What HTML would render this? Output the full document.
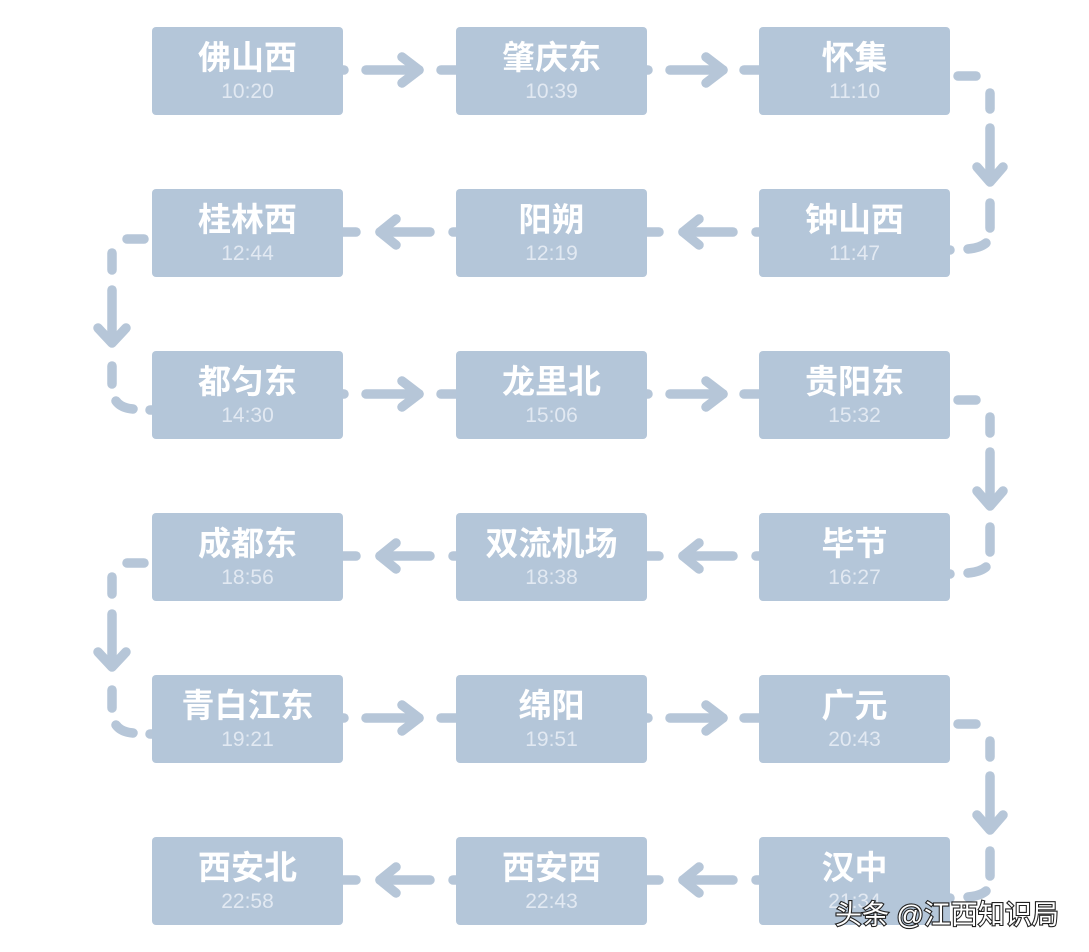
<!DOCTYPE html>
<html><head><meta charset="utf-8">
<style>
html,body{margin:0;padding:0;background:#fff;}
svg{display:block;}
.t{font-family:"Liberation Sans","Noto Sans CJK SC",sans-serif;font-weight:bold;font-size:33px;fill:#fff;}
.m{font-family:"Liberation Sans","Noto Sans CJK SC",sans-serif;font-size:21px;fill:#e2e9f2;}
.c{fill:none;stroke:#b6c6d8;stroke-width:9.5;stroke-linecap:round;stroke-linejoin:round;}
.w{font-family:"Liberation Sans","Noto Sans CJK SC",sans-serif;font-size:27px;fill:#fff;stroke:#222;stroke-width:2.2px;paint-order:stroke;}
</style></head>
<body>
<svg width="1089" height="952" viewBox="0 0 1089 952" xmlns="http://www.w3.org/2000/svg">
<g class="c">
<!-- row 0 rightwards y=70 -->
<path d="M340 70 L344 70"/><path d="M366 70 L419 70"/><path d="M402 57 L419 70 L402 83"/><path d="M441 70 L460 70"/>
<path d="M644 70 L648 70"/><path d="M670 70 L723 70"/><path d="M706 57 L723 70 L706 83"/><path d="M744 70 L763 70"/>
<!-- row 2 rightwards y=394 -->
<path d="M340 394 L344 394"/><path d="M366 394 L419 394"/><path d="M402 381 L419 394 L402 407"/><path d="M441 394 L460 394"/>
<path d="M644 394 L648 394"/><path d="M670 394 L723 394"/><path d="M706 381 L723 394 L706 407"/><path d="M744 394 L763 394"/>
<!-- row 4 rightwards y=718 -->
<path d="M340 718 L344 718"/><path d="M366 718 L419 718"/><path d="M402 705 L419 718 L402 731"/><path d="M441 718 L460 718"/>
<path d="M644 718 L648 718"/><path d="M670 718 L723 718"/><path d="M706 705 L723 718 L706 731"/><path d="M744 718 L763 718"/>
<!-- row 1 leftwards y=232 -->
<path d="M643 232 L659 232"/><path d="M683 232 L733 232"/><path d="M699 219 L683 232 L699 245"/><path d="M756 232 L762 232"/>
<path d="M340 232 L356 232"/><path d="M380 232 L430 232"/><path d="M396 219 L380 232 L396 245"/><path d="M453 232 L459 232"/>
<!-- row 3 leftwards y=556 -->
<path d="M643 556 L659 556"/><path d="M683 556 L733 556"/><path d="M699 543 L683 556 L699 569"/><path d="M756 556 L762 556"/>
<path d="M340 556 L356 556"/><path d="M380 556 L430 556"/><path d="M396 543 L380 556 L396 569"/><path d="M453 556 L459 556"/>
<!-- row 5 leftwards y=880 -->
<path d="M643 880 L659 880"/><path d="M683 880 L733 880"/><path d="M699 867 L683 880 L699 893"/><path d="M756 880 L762 880"/>
<path d="M340 880 L356 880"/><path d="M380 880 L430 880"/><path d="M396 867 L380 880 L396 893"/><path d="M453 880 L459 880"/>

<!-- right connectors -->
<g>
<path d="M958 76 L976 76"/><path d="M990 93 L990 109"/><path d="M990 128 L990 181"/><path d="M977 167 L990 182 L1003 167"/><path d="M990 203 L990 228"/><path d="M986 243 Q980 248 968 249"/><path d="M946 250 L950 250"/>
</g>
<g transform="translate(0,324)">
<path d="M958 76 L976 76"/><path d="M990 93 L990 109"/><path d="M990 128 L990 181"/><path d="M977 167 L990 182 L1003 167"/><path d="M990 203 L990 228"/><path d="M986 243 Q980 248 968 249"/><path d="M946 250 L950 250"/>
</g>
<g transform="translate(0,648)">
<path d="M958 76 L976 76"/><path d="M990 93 L990 109"/><path d="M990 128 L990 181"/><path d="M977 167 L990 182 L1003 167"/><path d="M990 203 L990 228"/><path d="M986 243 Q980 248 968 249"/><path d="M946 250 L950 250"/>
</g>
<!-- left connectors -->
<g>
<path d="M144 239 L127 239"/><path d="M112 253 L112 270"/><path d="M112 290 L112 342"/><path d="M98 328 L112 343 L126 328"/><path d="M112 366 L112 384"/><path d="M116 401 Q121 408 133 409"/><path d="M150 410 L154 410"/>
</g>
<g transform="translate(0,324)">
<path d="M144 239 L127 239"/><path d="M112 253 L112 270"/><path d="M112 290 L112 342"/><path d="M98 328 L112 343 L126 328"/><path d="M112 366 L112 384"/><path d="M116 401 Q121 408 133 409"/><path d="M150 410 L154 410"/>
</g>
</g>

<!-- boxes -->
<g fill="#b4c6d9">
<rect x="152" y="27" width="191" height="88" rx="4"/><rect x="456" y="27" width="191" height="88" rx="4"/><rect x="759" y="27" width="191" height="88" rx="4"/>
<rect x="152" y="189" width="191" height="88" rx="4"/><rect x="456" y="189" width="191" height="88" rx="4"/><rect x="759" y="189" width="191" height="88" rx="4"/>
<rect x="152" y="351" width="191" height="88" rx="4"/><rect x="456" y="351" width="191" height="88" rx="4"/><rect x="759" y="351" width="191" height="88" rx="4"/>
<rect x="152" y="513" width="191" height="88" rx="4"/><rect x="456" y="513" width="191" height="88" rx="4"/><rect x="759" y="513" width="191" height="88" rx="4"/>
<rect x="152" y="675" width="191" height="88" rx="4"/><rect x="456" y="675" width="191" height="88" rx="4"/><rect x="759" y="675" width="191" height="88" rx="4"/>
<rect x="152" y="837" width="191" height="88" rx="4"/><rect x="456" y="837" width="191" height="88" rx="4"/><rect x="759" y="837" width="191" height="88" rx="4"/>
</g>

<g text-anchor="middle">
<text class="t" x="247.5" y="69">佛山西</text><text class="m" x="247.5" y="98">10:20</text>
<text class="t" x="551.5" y="69">肇庆东</text><text class="m" x="551.5" y="98">10:39</text>
<text class="t" x="854.5" y="69">怀集</text><text class="m" x="854.5" y="98">11:10</text>

<text class="t" x="247.5" y="231">桂林西</text><text class="m" x="247.5" y="260">12:44</text>
<text class="t" x="551.5" y="231">阳朔</text><text class="m" x="551.5" y="260">12:19</text>
<text class="t" x="854.5" y="231">钟山西</text><text class="m" x="854.5" y="260">11:47</text>

<text class="t" x="247.5" y="393">都匀东</text><text class="m" x="247.5" y="422">14:30</text>
<text class="t" x="551.5" y="393">龙里北</text><text class="m" x="551.5" y="422">15:06</text>
<text class="t" x="854.5" y="393">贵阳东</text><text class="m" x="854.5" y="422">15:32</text>

<text class="t" x="247.5" y="555">成都东</text><text class="m" x="247.5" y="584">18:56</text>
<text class="t" x="551.5" y="555">双流机场</text><text class="m" x="551.5" y="584">18:38</text>
<text class="t" x="854.5" y="555">毕节</text><text class="m" x="854.5" y="584">16:27</text>

<text class="t" x="247.5" y="717">青白江东</text><text class="m" x="247.5" y="746">19:21</text>
<text class="t" x="551.5" y="717">绵阳</text><text class="m" x="551.5" y="746">19:51</text>
<text class="t" x="854.5" y="717">广元</text><text class="m" x="854.5" y="746">20:43</text>

<text class="t" x="247.5" y="879">西安北</text><text class="m" x="247.5" y="908">22:58</text>
<text class="t" x="551.5" y="879">西安西</text><text class="m" x="551.5" y="908">22:43</text>
<text class="t" x="854.5" y="879">汉中</text><text class="m" x="854.5" y="908">21:34</text>
</g>

<text class="w" x="835" y="924">头条 @江西知识局</text>
</svg>
</body></html>
